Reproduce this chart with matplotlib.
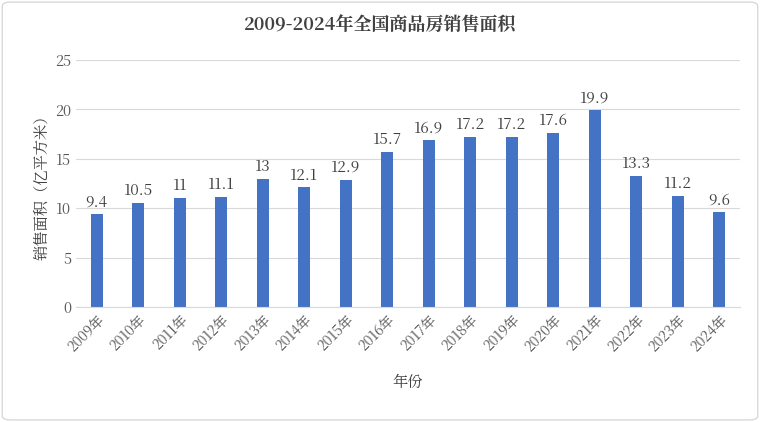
import matplotlib
matplotlib.use("Agg")
import matplotlib.pyplot as plt
from matplotlib import font_manager as fm

years = ["2009年","2010年","2011年","2012年","2013年","2014年","2015年","2016年",
         "2017年","2018年","2019年","2020年","2021年","2022年","2023年","2024年"]
area = [9.4, 10.5, 11, 11.1, 13, 12.1, 12.9, 15.7, 16.9, 17.2, 17.2, 17.6, 19.9, 13.3, 11.2, 9.6]
yticks = [0, 5, 10, 15, 20, 25]

cjk = [f for f in fm.fontManager.ttflist if "CJK" in f.name or "CJK" in f.fname]
pref = [f for f in cjk if "SC" in f.name] or cjk
if pref:
    fam = pref[0].name
    plt.rcParams["font.family"] = [fam, "DejaVu Sans"]
else:
    import glob
    files = glob.glob("/usr/share/fonts/**/*CJK*", recursive=True)
    for fp in files:
        fm.fontManager.addfont(fp)
    if files:
        plt.rcParams["font.family"] = [fm.FontProperties(fname=files[0]).get_name(), "DejaVu Sans"]

fig = plt.figure(figsize=(7.6, 4.22), dpi=100)
ax = fig.add_axes([76/760, 1-307/422, (740-76)/760, (307-60)/422])
x = range(len(years))
ax.bar(x, area, width=0.3, color="#4472C4")
for xi, v in zip(x, area):
    ax.text(xi, v + 0.4, f"{v:g}", ha="center", va="bottom", fontsize=11, color="#404040")
ax.set_ylim(0, 25)
ax.set_xlim(-0.5, len(years) - 0.5)
ax.set_yticks(yticks)
ax.tick_params(axis="y", length=0, labelsize=10.5, labelcolor="#595959")
ax.tick_params(axis="x", length=0, labelsize=10, labelcolor="#595959")
ax.set_xticks(list(x))
ax.set_xticklabels(years, rotation=45, ha="right", rotation_mode="anchor")
ax.yaxis.grid(True, color="#D9D9D9", linewidth=0.8)
ax.set_axisbelow(True)
for s in ["top", "right", "left"]:
    ax.spines[s].set_visible(False)
ax.spines["bottom"].set_color("#D9D9D9")
ax.set_ylabel("销售面积（亿平方米）", fontsize=11, color="#404040")
ax.set_xlabel("年份", fontsize=11, color="#404040", labelpad=14)
fig.text(0.5, 1-25/422, "2009-2024年全国商品房销售面积", ha="center", va="center",
         fontsize=13, fontweight="bold", color="#404040")
fig.patches.append(matplotlib.patches.FancyBboxPatch((0.003, 0.005), 0.994, 0.99,
    boxstyle="round,pad=0,rounding_size=0.01", transform=fig.transFigure,
    fill=False, edgecolor="#D9D9D9", linewidth=1))
fig.savefig("out.png", dpi=100)
